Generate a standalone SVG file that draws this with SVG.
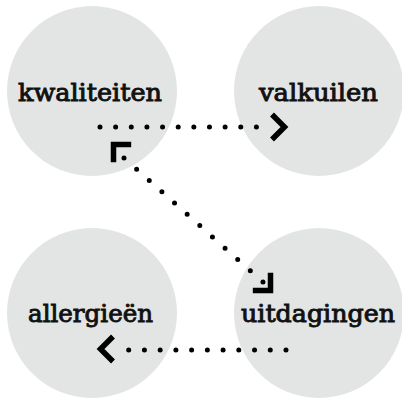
<svg xmlns="http://www.w3.org/2000/svg" xmlns:xlink="http://www.w3.org/1999/xlink" width="402" height="400" viewBox="0 0 402 400">
  <style>
    .bubble { fill: #e3e4e4; }
    .label { font-family: "DejaVu Serif", "Liberation Serif", serif; font-weight: normal; font-size: 25px; fill: #111; stroke: #111; stroke-width: 0.95; text-anchor: middle; }
    .dots { fill: none; stroke: #000; stroke-width: 5; stroke-linecap: round; }
    .head { fill: none; stroke: #000; stroke-width: 5.5; stroke-linejoin: miter; stroke-linecap: butt; }
  </style>
  <defs>
    <!-- chevron arrowhead, tip at origin, pointing along +x -->
    <path id="chevron" class="head" d="M-12.5,-12.5 L0,0 L-12.5,12.5"/>
  </defs>

  <g id="kwaliteiten">
    <circle class="bubble" cx="92" cy="91" r="85"/>
    <text class="label" x="90" y="101" textLength="144" lengthAdjust="spacingAndGlyphs">kwaliteiten</text>
  </g>
  <g id="valkuilen">
    <circle class="bubble" cx="319" cy="91" r="85"/>
    <text class="label" x="318.5" y="101" textLength="119" lengthAdjust="spacingAndGlyphs">valkuilen</text>
  </g>
  <g id="allergieen">
    <circle class="bubble" cx="92" cy="313" r="85"/>
    <text class="label" x="90.5" y="322" textLength="125" lengthAdjust="spacingAndGlyphs">allergieën</text>
  </g>
  <g id="uitdagingen">
    <circle class="bubble" cx="319" cy="313" r="85"/>
    <text class="label" x="318" y="322" textLength="154" lengthAdjust="spacingAndGlyphs">uitdagingen</text>
  </g>

  <g id="connectors">
    <!-- kwaliteiten to valkuilen -->
    <line class="dots" x1="100" y1="127" x2="272" y2="127" stroke-dasharray="0 15.64"/>
    <use xlink:href="#chevron" transform="translate(284.5,127)"/>
    <!-- uitdagingen to allergieën -->
    <line class="dots" x1="286" y1="350" x2="113" y2="350" stroke-dasharray="0 15.73"/>
    <use xlink:href="#chevron" transform="translate(100.5,349) rotate(180)"/>
    <!-- kwaliteiten and uitdagingen, both ways -->
    <line class="dots" x1="124" y1="158" x2="263" y2="282" stroke-dasharray="0 16.93"/>
    <use xlink:href="#chevron" transform="translate(113.5,144.5) rotate(225)"/>
    <use xlink:href="#chevron" transform="translate(270.5,290.5) rotate(45)"/>
  </g>
</svg>
